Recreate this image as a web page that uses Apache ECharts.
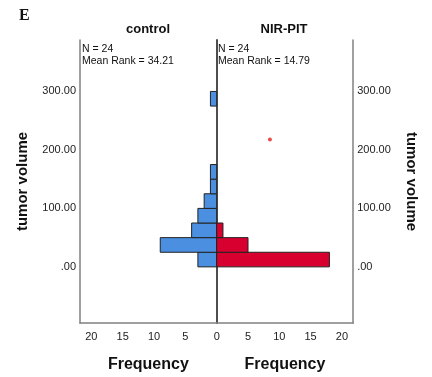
<!DOCTYPE html>
<html><head><meta charset="utf-8">
<script src="https://cdn.jsdelivr.net/npm/echarts@6/dist/echarts.min.js"></script>
<style>html,body{margin:0;padding:0;background:#fff}#c{width:432px;height:377px}</style>
</head><body><div id="c"></div>
<script>
// bin edges (tumor volume) and frequencies
const binStarts = [0, 25, 50, 75, 100, 125, 150, 275];
const binWidth = 25;
const controlCounts = [3, 9, 4, 3, 2, 1, 1, 1];
const nirBinStarts = [0, 25, 50];
const nirCounts = [18, 5, 1];
const outlier = [[8.5, 218]];
const yTicks = [0, 100, 200, 300];
const xTicks = [0, 5, 10, 15, 20];
const groups = ['control', 'NIR-PIT'];
const stats = ['N = 24\nMean Rank = 34.21', 'N = 24\nMean Rank = 14.79'];

const Y_MIN = -96, Y_MAX = 388, X_MAX = 21.8;
const FONT = 'Liberation Sans, Arial, sans-serif';
const gridTop = 40, gridBottom = 54;

function barData(starts, counts) {
  return starts.map((s, i) => [s, s + binWidth, counts[i]]);
}
function renderBar(color) {
  return function (params, api) {
    const y0 = api.value(0), y1 = api.value(1), n = api.value(2);
    const p0 = api.coord([0, y0]);
    const p1 = api.coord([n, y1]);
    const x = Math.min(p0[0], p1[0]), w = Math.abs(p1[0] - p0[0]);
    const y = Math.min(p0[1], p1[1]), h = Math.abs(p1[1] - p0[1]);
    return {
      type: 'rect',
      shape: { x: x, y: y, width: w, height: h },
      style: { fill: color, stroke: '#222', lineWidth: 1 }
    };
  };
}
const yLabelFmt = v => v === 0 ? '.00' : v.toFixed(2);
const axisLabelStyle = { color: '#222', fontFamily: FONT, fontSize: 11 };
const nameStyle = { color: '#111', fontFamily: FONT, fontSize: 15, fontWeight: 'bold' };
const frameLine = { show: true, onZero: false, lineStyle: { color: '#808080', width: 1.5 } };

const chart = echarts.init(document.getElementById('c'), null, { renderer: 'canvas' });
chart.setOption({
  backgroundColor: '#fff',
  animation: false,
  grid: [
    { left: 80, width: 136.7, top: gridTop, bottom: gridBottom, containLabel: false, outerBoundsMode: 'none' },
    { left: 216.7, width: 136.5, top: gridTop, bottom: gridBottom, containLabel: false, outerBoundsMode: 'none' }
  ],
  xAxis: [
    { type: 'value', gridIndex: 0, inverse: true, min: 0, max: X_MAX, interval: 5,
      splitLine: { show: false }, axisTick: { show: false }, axisLine: frameLine,
      axisLabel: Object.assign({ margin: 8, customValues: xTicks, formatter: v => String(v) }, axisLabelStyle),
      name: 'Frequency', nameLocation: 'middle', nameGap: 34, nameTextStyle: Object.assign({}, nameStyle, { fontSize: 16 }) },
    { type: 'value', gridIndex: 1, min: 0, max: X_MAX, interval: 5,
      splitLine: { show: false }, axisTick: { show: false }, axisLine: frameLine,
      axisLabel: Object.assign({ margin: 8, customValues: xTicks.slice(1), formatter: v => String(v) }, axisLabelStyle),
      name: 'Frequency', nameLocation: 'middle', nameGap: 34, nameTextStyle: Object.assign({}, nameStyle, { fontSize: 16 }) }
  ],
  yAxis: [
    { type: 'value', gridIndex: 0, position: 'left', min: Y_MIN, max: Y_MAX,
      splitLine: { show: false }, axisTick: { show: false }, axisLine: frameLine,
      axisLabel: Object.assign({ margin: 4, padding: [3, 0, 0, 0], customValues: yTicks, formatter: yLabelFmt }, axisLabelStyle),
      name: 'tumor volume', nameLocation: 'middle', nameGap: 50, nameRotate: 90, nameTextStyle: nameStyle },
    { type: 'value', gridIndex: 1, position: 'right', min: Y_MIN, max: Y_MAX,
      splitLine: { show: false }, axisTick: { show: false }, axisLine: frameLine,
      axisLabel: Object.assign({ margin: 4, padding: [3, 0, 0, 0], customValues: yTicks, formatter: yLabelFmt }, axisLabelStyle),
      name: 'tumor volume', nameLocation: 'middle', nameGap: 50, nameRotate: -90, nameTextStyle: nameStyle },
    { type: 'value', gridIndex: 1, position: 'left', min: Y_MIN, max: Y_MAX,
      splitLine: { show: false }, axisTick: { show: false }, axisLabel: { show: false },
      axisLine: { show: true, onZero: false, lineStyle: { color: '#3a3a3a', width: 1.8 } } }
  ],
  series: [
    { type: 'custom', xAxisIndex: 0, yAxisIndex: 0, renderItem: renderBar('#4B8FE0'),
      data: barData(binStarts, controlCounts), z: 1 },
    { type: 'custom', xAxisIndex: 1, yAxisIndex: 1, renderItem: renderBar('#D8002F'),
      data: barData(nirBinStarts, nirCounts), z: 1 },
    { type: 'scatter', xAxisIndex: 1, yAxisIndex: 1, data: outlier, symbolSize: 4,
      itemStyle: { color: '#E0201E' }, z: 3 }
  ],
  graphic: [
    { type: 'text', left: 19, top: 8, style: { text: 'E', fontFamily: 'Liberation Serif, serif', fontWeight: 'bold', fontSize: 16, fill: '#111' } },
    { type: 'text', x: 148, y: 29.5, style: { text: groups[0], fontFamily: FONT, fontWeight: 'bold', fontSize: 13, fill: '#111', align: 'center', verticalAlign: 'middle' } },
    { type: 'text', x: 284, y: 29.5, style: { text: groups[1], fontFamily: FONT, fontWeight: 'bold', fontSize: 13, fill: '#111', align: 'center', verticalAlign: 'middle' } },
    { type: 'text', x: 82, y: 43, style: { text: stats[0], fontFamily: FONT, fontSize: 10.5, lineHeight: 12, fill: '#111' } },
    { type: 'text', x: 218, y: 43, style: { text: stats[1], fontFamily: FONT, fontSize: 10.5, lineHeight: 12, fill: '#111' } }
  ]
});
</script></body></html>
